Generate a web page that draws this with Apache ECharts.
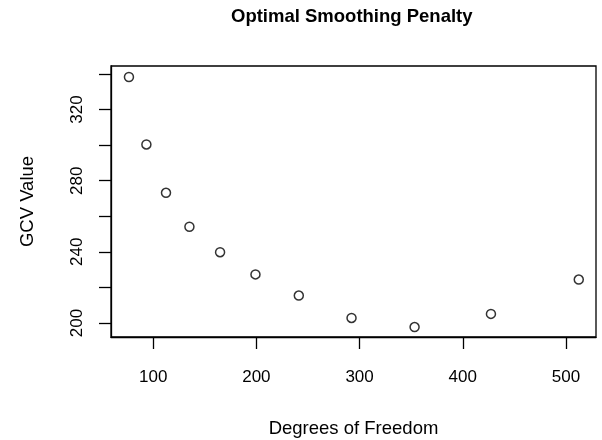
<!DOCTYPE html>
<html>
<head>
<meta charset="utf-8">
<script src="https://cdn.jsdelivr.net/npm/echarts@6/dist/echarts.min.js"></script>
<style>
html,body{margin:0;padding:0;background:#fff;}
#chart{width:602px;height:440px;}
</style>
</head>
<body>
<div id="chart"></div>
<script>
const degreesOfFreedom = [76.5, 93.4, 112.4, 135.1, 164.8, 199.1, 241.1, 292.2, 353.3, 427.3, 512.4];
const gcvValues = [338.3, 300.4, 273.2, 254.1, 239.8, 227.3, 215.4, 202.8, 197.7, 205.1, 224.4];
const xTicks = [100, 200, 300, 400, 500];
const yTicks = [200, 220, 240, 260, 280, 300, 320, 340];
const yLabels = [200, 240, 280, 320];

const font = 'Liberation Sans, Arial, sans-serif';
const chart = echarts.init(document.getElementById('chart'), null, {renderer: 'canvas'});
chart.setOption({
  animation: false,
  backgroundColor: '#ffffff',
  title: {
    text: 'Optimal Smoothing Penalty',
    left: 231, top: 7, padding: 0,
    textStyle: {fontFamily: font, fontSize: 18.5, fontWeight: 'bold', color: '#000'}
  },
  grid: {
    left: 111, right: 6, top: 66, bottom: 103,
    outerBoundsMode: 'none', containLabel: false,
    show: true, borderColor: '#000', borderWidth: 1.3, backgroundColor: 'transparent'
  },
  xAxis: {
    type: 'value', min: 59.1, max: 529.1,
    name: 'Degrees of Freedom', nameLocation: 'middle', nameGap: 82,
    nameTextStyle: {fontFamily: font, fontSize: 18.5, color: '#000'},
    axisLine: {show: true, onZero: false, lineStyle: {color: '#000', width: 1.3}},
    axisTick: {show: true, length: 12, customValues: xTicks, lineStyle: {color: '#000', width: 1.3}},
    axisLabel: {customValues: xTicks, margin: 32, fontFamily: font, fontSize: 17, color: '#000'},
    splitLine: {show: false}
  },
  yAxis: {
    type: 'value', min: 192.1, max: 344.5,
    name: 'GCV Value', nameLocation: 'middle', nameGap: 74, nameRotate: 90,
    nameTextStyle: {fontFamily: font, fontSize: 18.5, color: '#000'},
    axisLine: {show: true, onZero: false, lineStyle: {color: '#000', width: 1.3}},
    axisTick: {show: true, length: 12, customValues: yTicks, lineStyle: {color: '#000', width: 1.3}},
    axisLabel: {customValues: yLabels, rotate: 90, margin: 25, fontFamily: font, fontSize: 17, color: '#000'},
    splitLine: {show: false}
  },
  series: [{
    type: 'scatter',
    data: degreesOfFreedom.map((x, i) => [x, gcvValues[i]]),
    symbol: 'circle', symbolSize: 9,
    itemStyle: {color: '#fff', borderColor: '#000', borderWidth: 1.5}
  }]
});
</script>
</body>
</html>
